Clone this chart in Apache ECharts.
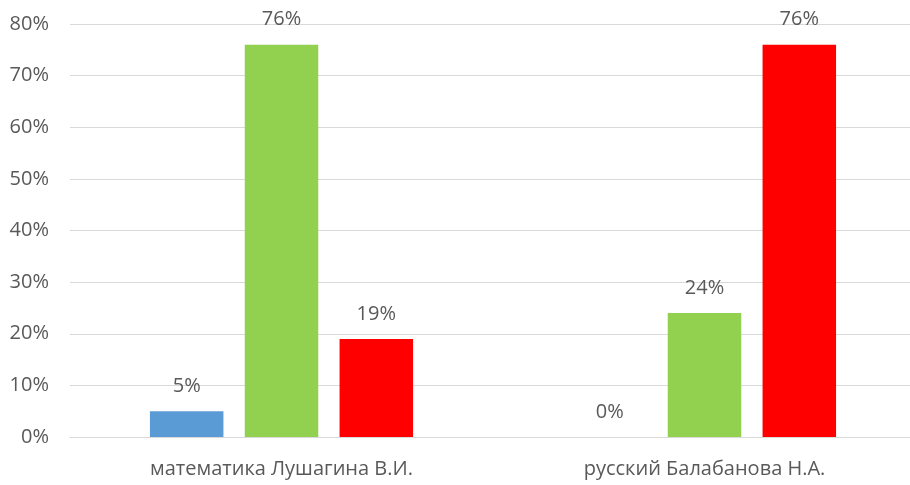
<!DOCTYPE html>
<html>
<head>
<meta charset="utf-8">
<script src="https://cdn.jsdelivr.net/npm/echarts@6/dist/echarts.min.js"></script>
<style>
  html, body { margin: 0; padding: 0; background: #fff; overflow: hidden; }
  /* plot runs slightly past the right edge, as in the original crop */
  #chart { width: 916px; height: 485px; }
</style>
</head>
<body>
<div id="chart"></div>
<script>
const categories = ['математика Лушагина В.И.', 'русский Балабанова Н.А.']
const blueValues = [5, 0]
const greenValues = [76, 24]
const redValues = [19, 76]

const textColor = '#595959'
const font = '"Open Sans", "Noto Sans", sans-serif'

const chart = echarts.init(document.getElementById('chart'))

function barSeries(name, data, color) {
  return {
    name: name,
    type: 'bar',
    data: data,
    barWidth: 73.5,
    barGap: '29%',
    itemStyle: { color: color },
    label: {
      show: true,
      position: 'top',
      distance: 15,
      formatter: '{c}%',
      color: textColor,
      fontSize: 20,
      fontFamily: font
    }
  }
}

chart.setOption({
  backgroundColor: '#fff',
  animation: false,
  grid: { left: 70, top: 24, bottom: 48, right: 0 },
  xAxis: {
    type: 'category',
    data: categories,
    axisLine: { show: true, lineStyle: { color: '#d9d9d9', width: 1 } },
    axisTick: { show: false },
    axisLabel: { color: textColor, fontSize: 20, fontFamily: font, margin: 22 }
  },
  yAxis: {
    type: 'value',
    min: 0,
    max: 80,
    interval: 10,
    axisLine: { show: false },
    axisTick: { show: false },
    splitLine: { lineStyle: { color: '#d9d9d9', width: 1 } },
    axisLabel: {
      formatter: '{value}%',
      color: textColor,
      fontSize: 20,
      fontFamily: font,
      margin: 21
    }
  },
  series: [
    barSeries('Ряд 1', blueValues, '#5b9bd5'),
    barSeries('Ряд 2', greenValues, '#92d050'),
    barSeries('Ряд 3', redValues, '#ff0000')
  ]
})
</script>
</body>
</html>
